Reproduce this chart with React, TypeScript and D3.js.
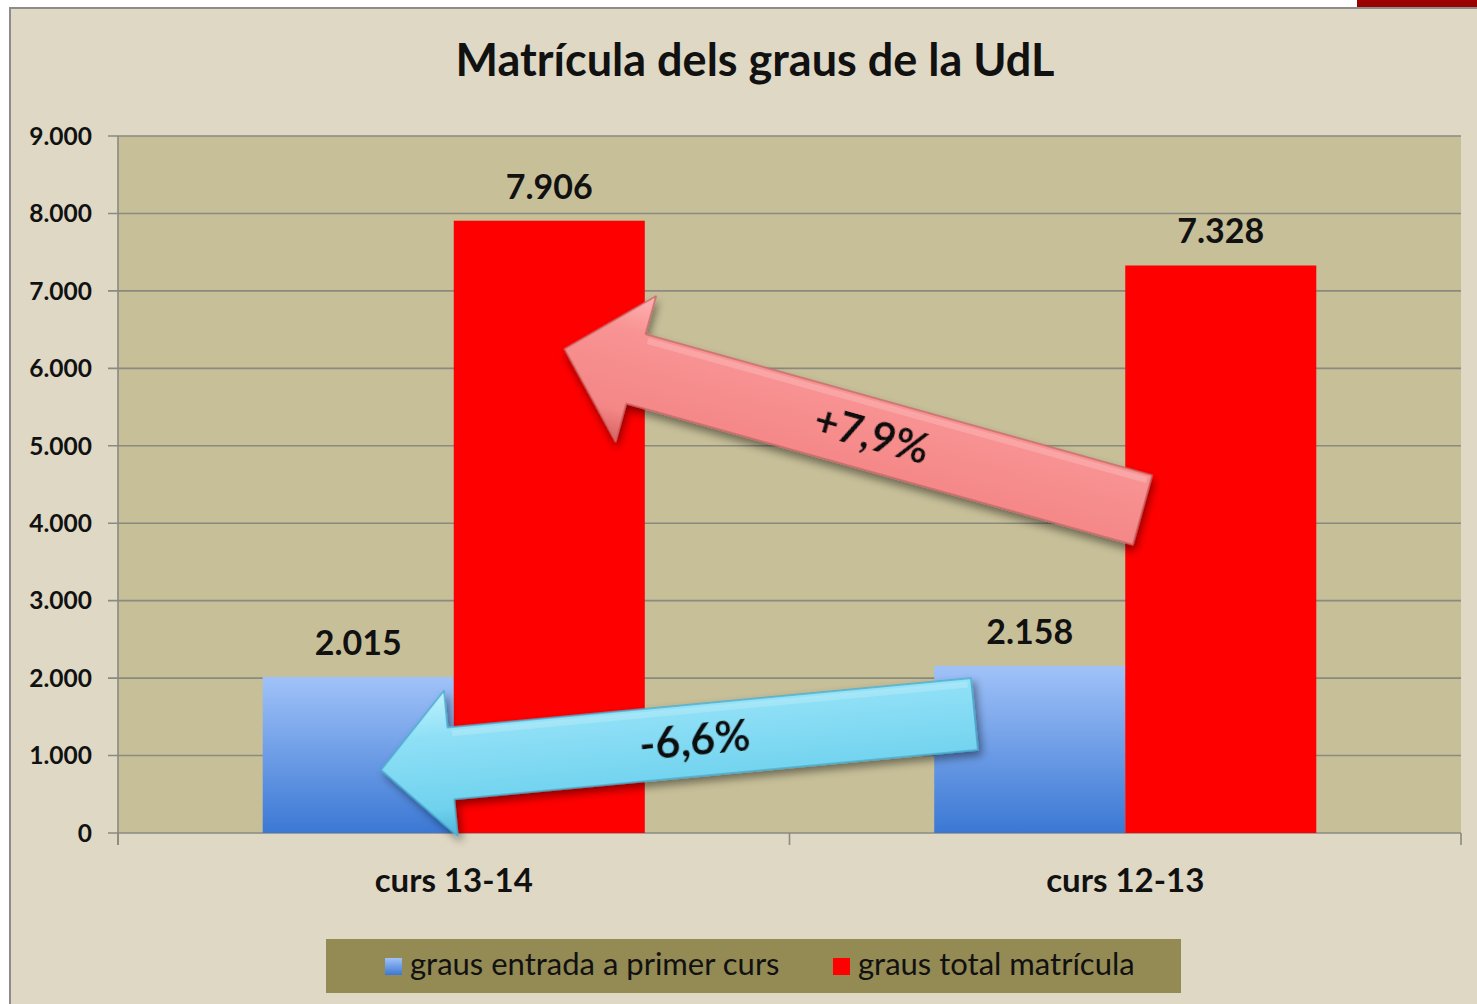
import React from 'react';
import * as d3 from 'd3';

// chart values
const categories = ['curs 13-14', 'curs 12-13'];
const seriesNames = ['graus entrada a primer curs', 'graus total matrícula'];
const entrada = [2015, 2158];
const total = [7906, 7328];
const yTicks = [0, 1000, 2000, 3000, 4000, 5000, 6000, 7000, 8000, 9000];
const title = 'Matrícula dels graus de la UdL';

// arrow annotations: from the 12-13 bar to the 13-14 bar (value units, fraction of sub band)
const arrowTips = [6250, 814];
const arrowTails = [4171, 1537];
const tipFrac = [0.58, 0.62];
const tailFrac = [0.09, 0.21];

const W = 1477;
const H = 1004;
const plot = { left: 118, right: 1461, top: 136, bottom: 833 };
const FONT = 'Lato, "Open Sans", sans-serif';

const fmt = (v: number) => d3.format(',')(v).replace(/,/g, '.');
const pct = (a: number, b: number) => {
  const p = ((a - b) / b) * 100;
  return (p > 0 ? '+' : '') + p.toFixed(1).replace('.', ',') + '%';
};

function Arrow({ tip, tail, w, hw, hl, fill, stroke, label, fontSize, shift }) {
  const dx = tail[0] - tip[0];
  const dy = tail[1] - tip[1];
  const L = Math.sqrt(dx * dx + dy * dy);
  const ang = (Math.atan2(dy, dx) * 180) / Math.PI;
  const pts = [
    [0, 0], [hl, -hw / 2], [hl, -w / 2], [L, -w / 2], [L, w / 2], [hl, w / 2], [hl, hw / 2],
  ];
  return (
    <g transform={`translate(${tip[0]},${tip[1]}) rotate(${ang})`} filter="url(#shadow)">
      <polygon points={pts.map(p => p.join(',')).join(' ')} fill={fill} stroke={stroke} strokeWidth={1.5} strokeLinejoin="round" />
      <polygon points={`${hl + 4},${-w / 2 + 3} ${L - 4},${-w / 2 + 3} ${L - 4},${-w / 2 + 9} ${hl + 4},${-w / 2 + 9}`}
        fill="#ffffff" opacity={0.18} />
      <text x={hl + (L - hl) / 2 + shift} y={0} dy="0.36em" textAnchor="middle" fontFamily={FONT}
        fontWeight="bold" fontSize={fontSize} fill="#111">{label}</text>
    </g>
  );
}

export default function App() {
  const x = d3.scaleBand().domain(categories).range([plot.left, plot.right]).paddingInner(0.431).paddingOuter(0.2155);
  const sub = d3.scaleBand().domain(seriesNames).range([0, x.bandwidth()]);
  const y = d3.scaleLinear().domain([0, 9000]).range([plot.bottom, plot.top]);
  const step = x.step();
  const axisTicks = d3.range(categories.length + 1).map(i => plot.left + i * step);

  const series = [
    { name: seriesNames[0], values: entrada, fill: 'url(#blueGrad)' },
    { name: seriesNames[1], values: total, fill: '#ff0000' },
  ];

  const arrowPoint = (ci: number, si: number, frac: number, v: number) =>
    [(x(categories[ci]) ?? 0) + (sub(seriesNames[si]) ?? 0) + frac * sub.bandwidth(), y(v)];

  return (
    <svg width={W} height={H} style={{ position: 'absolute', left: 0, top: 0, display: 'block' }}>
      <defs>
        <linearGradient id="blueGrad" x1="0" y1="0" x2="0" y2="1">
          <stop offset="0%" stopColor="#a0c2f8" />
          <stop offset="100%" stopColor="#3b78d4" />
        </linearGradient>
        <linearGradient id="redArrow" x1="0" y1="0" x2="0" y2="1">
          <stop offset="0%" stopColor="#ffb4b4" />
          <stop offset="25%" stopColor="#f99494" />
          <stop offset="80%" stopColor="#f48686" />
          <stop offset="100%" stopColor="#d86262" />
        </linearGradient>
        <linearGradient id="blueArrow" x1="0" y1="0" x2="0" y2="1">
          <stop offset="0%" stopColor="#c0f2fd" />
          <stop offset="30%" stopColor="#8fe0f6" />
          <stop offset="80%" stopColor="#70d2ee" />
          <stop offset="100%" stopColor="#4fb4d6" />
        </linearGradient>
        <filter id="shadow" x="-20%" y="-40%" width="140%" height="180%">
          <feDropShadow dx="3" dy="5" stdDeviation="4" floodColor="#000" floodOpacity="0.45" />
        </filter>
      </defs>

      <rect x={0} y={0} width={W} height={H} fill="#ffffff" />
      <rect x={1357} y={0} width={120} height={7} fill="#990000" />
      <rect x={10} y={8} width={W} height={H} fill="#ded8c4" stroke="#8c8c8c" strokeWidth={2} />

      <text x={755} y={76} textAnchor="middle" fontFamily={FONT} fontWeight="bold" fontSize={45} fill="#111">{title}</text>

      <rect x={plot.left} y={plot.top} width={plot.right - plot.left} height={plot.bottom - plot.top} fill="#c7bf98" />

      {yTicks.map(t => (
        <g key={t}>
          <line x1={plot.left - 10} x2={plot.right} y1={y(t)} y2={y(t)} stroke="#8a8a80" strokeWidth={1.6} />
          <text x={92} y={y(t)} dy="0.36em" textAnchor="end" fontFamily={FONT} fontWeight="bold" fontSize={24.5} fill="#111">{fmt(t)}</text>
        </g>
      ))}
      <line x1={plot.left} x2={plot.left} y1={plot.top} y2={plot.bottom + 12} stroke="#8a8a80" strokeWidth={1.6} />
      {axisTicks.map((t, i) => (
        <line key={i} x1={t} x2={t} y1={plot.bottom} y2={plot.bottom + 12} stroke="#8a8a80" strokeWidth={1.6} />
      ))}

      {series.map((s, si) => (
        <g key={s.name}>
          {s.values.map((v, ci) => {
            const bx = (x(categories[ci]) ?? 0) + (sub(s.name) ?? 0);
            return (
              <g key={ci}>
                <rect x={bx} y={y(v)} width={sub.bandwidth()} height={plot.bottom - y(v)} fill={s.fill} />
                <text x={bx + sub.bandwidth() / 2} y={y(v) - 22} textAnchor="middle" fontFamily={FONT}
                  fontWeight="bold" fontSize={34} fill="#111">{fmt(v)}</text>
              </g>
            );
          })}
        </g>
      ))}

      {categories.map(c => (
        <text key={c} x={(x(c) ?? 0) + x.bandwidth() / 2} y={892} textAnchor="middle" fontFamily={FONT}
          fontWeight="bold" fontSize={33} fill="#111">{c}</text>
      ))}

      <Arrow tip={arrowPoint(0, 1, tipFrac[0], arrowTips[0])} tail={arrowPoint(1, 1, tailFrac[0], arrowTails[0])}
        w={72} hw={151} hl={74} fill="url(#redArrow)" stroke="#c86a6a" label={pct(total[0], total[1])} fontSize={42} shift={-18} />
      <Arrow tip={arrowPoint(0, 0, tipFrac[1], arrowTips[1])} tail={arrowPoint(1, 0, tailFrac[1], arrowTails[1])}
        w={72} hw={146} hl={70} fill="url(#blueArrow)" stroke="#4aaed0" label={pct(entrada[0], entrada[1])} fontSize={43} shift={-18} />

      <rect x={326} y={939} width={855} height={54} fill="#948a54" />
      {series.map((s, i) => {
        const lx = [385, 833][i];
        return (
          <g key={s.name}>
            <rect x={lx} y={958} width={17} height={17} fill={i === 0 ? 'url(#blueGrad)' : '#ff0000'} />
            <text x={lx + 25} y={975} fontFamily={FONT} fontSize={31} fill="#111">{s.name}</text>
          </g>
        );
      })}
    </svg>
  );
}
